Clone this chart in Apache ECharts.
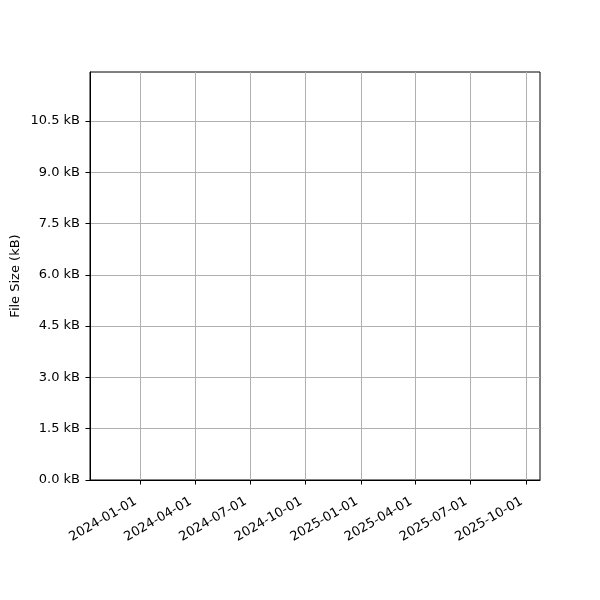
<!DOCTYPE html>
<html>
<head>
<meta charset="utf-8">
<script src="https://cdn.jsdelivr.net/npm/echarts@6/dist/echarts.min.js"></script>
<style>
html, body { margin: 0; padding: 0; background: #fff; }
#main { width: 600px; height: 600px; }
</style>
</head>
<body>
<div id="main"></div>
<script>
// data (the reference chart has no points drawn)
var dates = [];
var sizes = [];
var xTicks = ['2024-01-01', '2024-04-01', '2024-07-01', '2024-10-01',
              '2025-01-01', '2025-04-01', '2025-07-01', '2025-10-01'];
var yTicks = [0, 1.5, 3.0, 4.5, 6.0, 7.5, 9.0, 10.5];
var xMin = '2023-10-10';
var xMax = '2025-10-24';
var yMax = 11.93;

function ts(s) {
	var p = s.split('-');
	return Date.UTC(+p[0], +p[1] - 1, +p[2]);
}
function pad(n) { return n < 10 ? '0' + n : '' + n; }

var points = dates.map(function (d, i) { return [ts(d), sizes[i]]; });
var xTickValues = xTicks.map(ts);

var myChart = echarts.init(document.getElementById('main'));
var font = 'DejaVu Sans';
var option = {
	animation: false,
	grid: {
		left: 90, right: 60, top: 72, bottom: 120,
		outerBoundsMode: 'none',
		containLabel: false,
		show: true, borderColor: '#000', borderWidth: 1
	},
	xAxis: {
		type: 'value',
		min: ts(xMin),
		max: ts(xMax),
		axisLine: { show: true, lineStyle: { color: '#000', width: 1 } },
		axisTick: { show: true, length: 4.5, customValues: xTickValues, lineStyle: { color: '#000' } },
		splitLine: { show: true, lineStyle: { color: '#b0b0b0', width: 1 } },
		axisLabel: {
			customValues: xTickValues,
			rotate: 30,
			margin: 18,
			padding: [0, 5, 0, 0],
			color: '#000',
			fontFamily: font,
			fontSize: 13,
			hideOverlap: false,
			formatter: function (v) {
				var d = new Date(v);
				return d.getUTCFullYear() + '-' + pad(d.getUTCMonth() + 1) + '-' + pad(d.getUTCDate());
			}
		}
	},
	yAxis: {
		type: 'value',
		min: 0,
		max: yMax,
		name: 'File Size (kB)',
		nameLocation: 'middle',
		nameGap: 68,
		nameMoveOverlap: false,
		nameTextStyle: { color: '#000', fontFamily: font, fontSize: 13 },
		axisLine: { show: true, lineStyle: { color: '#000', width: 1 } },
		axisTick: { show: true, length: 4.5, customValues: yTicks, lineStyle: { color: '#000' } },
		splitLine: { show: true, lineStyle: { color: '#b0b0b0', width: 1 } },
		axisLabel: {
			customValues: yTicks,
			margin: 10,
			color: '#000',
			fontFamily: font,
			fontSize: 13,
			formatter: function (v) { return v.toFixed(1) + ' kB'; }
		}
	},
	series: [{
		type: 'line',
		name: 'File Size',
		data: points,
		showSymbol: false,
		lineStyle: { color: '#1f77b4' }
	}]
};
myChart.setOption(option);
</script>
</body>
</html>
